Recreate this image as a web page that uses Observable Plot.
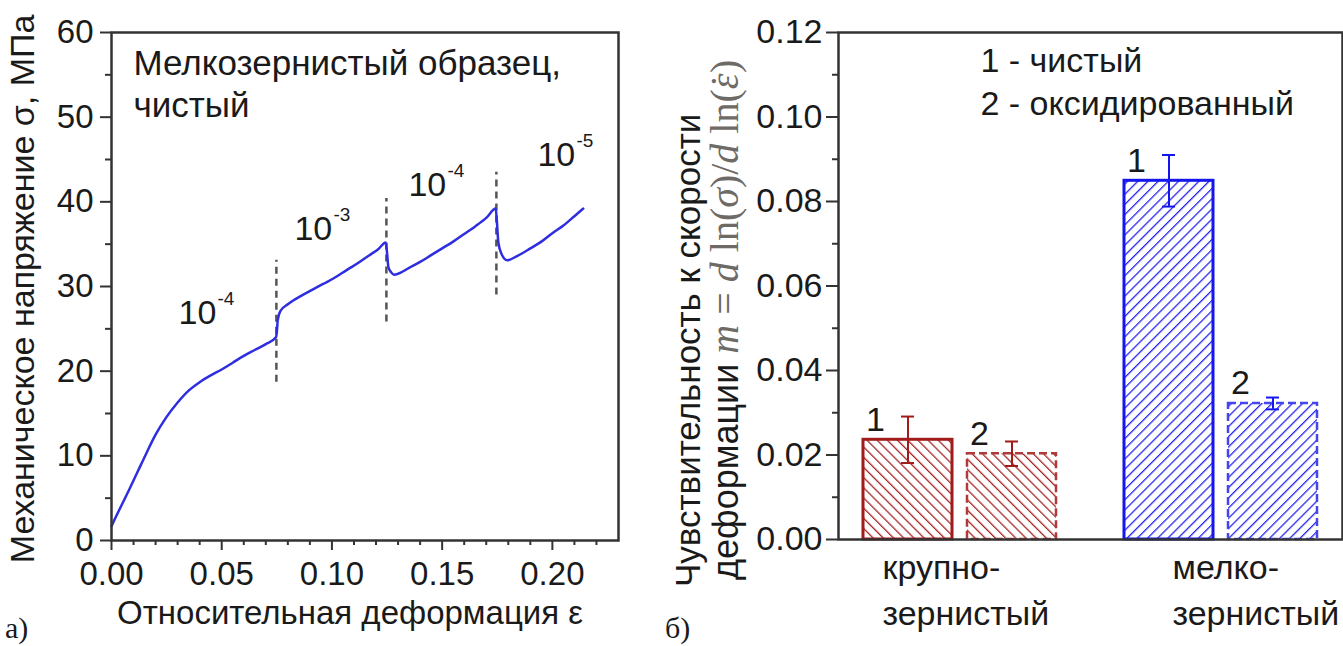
<!DOCTYPE html>
<html><head><meta charset="utf-8">
<script src="https://cdn.jsdelivr.net/npm/d3@7"></script>
<script src="https://cdn.jsdelivr.net/npm/@observablehq/plot@0.6"></script>
<style>
html,body{margin:0;padding:0;background:#fff;}
#wrap{position:relative;width:1343px;height:646px;overflow:hidden;background:#fff;}
#a{position:absolute;left:0;top:0;}
#b{position:absolute;left:660px;top:0;}
</style></head><body><div id="wrap"><div id="a"></div><div id="b"></div></div>
<script>
// ---------- panel a) data ----------
const strain = [0,0.002,0.005,0.008,0.012,0.016,0.020,0.025,0.030,0.035,0.040,0.045,0.050,0.055,0.060,0.065,0.070,0.0746,0.0750,0.0754,0.0766,0.0800,0.0860,0.0910,0.0960,0.1010,0.1070,0.1120,0.1170,0.1210,0.1244,0.1250,0.1256,0.1268,0.1282,0.1300,0.1350,0.1400,0.1450,0.1500,0.1550,0.1600,0.1650,0.1700,0.1743,0.1748,0.1755,0.1770,0.1795,0.1840,0.1900,0.1950,0.2000,0.2050,0.2100,0.2140];
const stress = [1.7,2.8,4.4,6.0,8.2,10.4,12.5,14.6,16.3,17.7,18.7,19.5,20.2,21.0,21.8,22.5,23.2,24.0,24.6,26.0,27.1,27.9,28.9,29.6,30.3,31.0,32.0,32.8,33.7,34.4,35.2,34.0,32.3,31.7,31.4,31.5,32.2,32.9,33.7,34.5,35.3,36.2,37.1,38.1,39.2,37.8,35.2,33.8,33.1,33.6,34.5,35.3,36.3,37.2,38.3,39.2];
const rateChangeStrain = [0.0748, 0.1247, 0.1746];
const rateChangeLow = [18.7, 25.8, 29.0];
const rateChangeHigh = [33.1, 40.4, 43.5];
const rateLabelStrain = [0.0304, 0.083, 0.1347, 0.1932];
const rateLabelStress = [25.6, 35.5, 40.7, 44.2];
const rateExponent = ["-4", "-3", "-4", "-5"];
const strainMajorTicks = [0, 0.05, 0.10, 0.15, 0.20];
const strainMinorTicks = [0.01,0.02,0.03,0.04,0.06,0.07,0.08,0.09,0.11,0.12,0.13,0.14,0.16,0.17,0.18,0.19,0.21,0.22];
const stressMajorTicks = [0, 10, 20, 30, 40, 50, 60];
const stressMinorTicks = [5, 15, 25, 35, 45, 55];
const titleA = ["Мелкозернистый образец,", "чистый"];
const xTitleA = "Относительная деформация ε";
const yTitleA = "Механическое напряжение σ, МПа";

// ---------- panel б) data ----------
const grainKeys = ["coarse", "fine"];
const grainLabels = ["крупно-\nзернистый", "мелко-\nзернистый"];
const seriesKeys = ["1", "2"];
const legendLabels = ["1 - чистый", "2 - оксидированный"];
const mValues = [[0.0236, 0.0203], [0.0849, 0.0322]];
const mErrors = [[0.0055, 0.0029], [0.0061, 0.0014]];
const mMajorTicks = [0, 0.02, 0.04, 0.06, 0.08, 0.10, 0.12];
const mMinorTicks = [0.01, 0.03, 0.05, 0.07, 0.09, 0.11];

// ---------- panel a) ----------
const curve = strain.map((s, i) => ({strain: s, stress: stress[i]}));
const rateChanges = rateChangeStrain.map((s, i) => ({strain: s, lo: rateChangeLow[i], hi: rateChangeHigh[i]}));
const rateLabels = rateLabelStrain.map((s, i) => ({strain: s, stress: rateLabelStress[i], exp: rateExponent[i]}));

const ink = "#1a1a1a";
const sans = "'Liberation Sans', Arial, sans-serif";
const serif = "'Liberation Serif', 'DejaVu Serif', 'Times New Roman', serif";
const left = Plot.plot({
  width: 660, height: 646,
  marginLeft: 111, marginTop: 32, marginRight: 42, marginBottom: 106,
  style: {fontFamily: sans, fontSize: "33px", color: ink, background: "transparent", overflow: "visible"},
  x: {domain: [0, 0.23]},
  y: {domain: [0, 60]},
  marks: [
    Plot.ruleX(rateChanges, {x: "strain", y1: "lo", y2: "hi", stroke: "#555", strokeWidth: 2.5, strokeDasharray: "7,5"}),
    Plot.line(curve, {x: "strain", y: "stress", stroke: "#2e2ee0", strokeWidth: 2.5, curve: "monotone-x"}),
    Plot.frame({stroke: "#333", strokeWidth: 2.5}),
    Plot.axisX({ticks: strainMajorTicks, tickSize: 10, tickPadding: 11, tickFormat: d3.format(".2f"), strokeWidth: 2, stroke: "#333", label: null}),
    Plot.axisX({ticks: strainMinorTicks, tickSize: 5, tickFormat: () => "", strokeWidth: 2, stroke: "#333", label: null}),
    Plot.axisY({ticks: stressMajorTicks, tickSize: 11, tickPadding: 7, strokeWidth: 2, stroke: "#333", label: null}),
    Plot.axisY({ticks: stressMinorTicks, tickSize: 6, tickFormat: () => "", strokeWidth: 2, stroke: "#333", label: null}),
    Plot.text(rateLabels, {x: "strain", y: "stress", text: () => "10", textAnchor: "start", lineAnchor: "bottom", fontSize: 34, fill: ink}),
    Plot.text(rateLabels, {x: "strain", y: "stress", text: "exp", textAnchor: "start", lineAnchor: "bottom", dx: 39, dy: -19, fontSize: 19, fill: ink}),
    Plot.text([titleA.join("\n")], {frameAnchor: "top-left", dx: 22, dy: 13, textAnchor: "start", lineAnchor: "top", lineHeight: 1.2, fontSize: 35, fill: ink})
  ]
});
{
  const s = d3.select(left);
  s.append("text").attr("transform", "translate(34,289) rotate(-90)").attr("text-anchor", "middle")
    .attr("fill", ink).style("font-size", "34px").style("font-family", sans).text(yTitleA);
  s.append("text").attr("x", 350).attr("y", 624).attr("text-anchor", "middle")
    .attr("fill", ink).style("font-size", "33px").style("font-family", sans).text(xTitleA);
  s.append("text").attr("x", 5).attr("y", 638).attr("text-anchor", "start").attr("fill", ink)
    .style("font-size", "30px").style("font-family", serif).text("а)");
}
document.getElementById("a").appendChild(left);

// ---------- panel б) ----------
const rows = [];
grainKeys.forEach((g, i) => seriesKeys.forEach((k, j) => rows.push({grain: g, series: k, m: mValues[i][j], err: mErrors[i][j]})));
const strokeSolid = {coarse: "#a11b1b", fine: "#1515ee"};
const strokeDashed = {coarse: "#b03a3a", fine: "#4545ee"};
const hatch = {coarse: "url(#hatchRed)", fine: "url(#hatchBlue)"};
const labelRows = grainKeys.map((g, i) => ({grain: g, label: grainLabels[i]}));

const right = Plot.plot({
  width: 683, height: 646,
  marginLeft: 178, marginRight: 1, marginTop: 32, marginBottom: 107,
  style: {fontFamily: sans, fontSize: "34px", color: ink, background: "transparent", overflow: "visible"},
  fx: {domain: grainKeys, paddingInner: 18 / 261, paddingOuter: 0, axis: null},
  x: {domain: seriesKeys, paddingInner: 15 / 105, paddingOuter: 0.2286, axis: null},
  y: {domain: [0, 0.12]},
  color: {type: "identity"},
  marks: [
    Plot.barY(rows.filter(d => d.series === "1"), {fx: "grain", x: "series", y: "m", fill: d => hatch[d.grain], stroke: d => strokeSolid[d.grain], strokeWidth: 3}),
    Plot.barY(rows.filter(d => d.series === "2"), {fx: "grain", x: "series", y: "m", fill: d => hatch[d.grain], stroke: d => strokeDashed[d.grain], strokeWidth: 2.5, strokeDasharray: "8,4"}),
    Plot.ruleX(rows, {fx: "grain", x: "series", y1: d => d.m - d.err, y2: d => d.m + d.err, stroke: d => strokeSolid[d.grain], strokeWidth: 2}),
    Plot.tickY(rows, {fx: "grain", x: "series", y: d => d.m + d.err, stroke: d => strokeSolid[d.grain], strokeWidth: 2, insetLeft: 38, insetRight: 38}),
    Plot.tickY(rows, {fx: "grain", x: "series", y: d => d.m - d.err, stroke: d => strokeSolid[d.grain], strokeWidth: 2, insetLeft: 38, insetRight: 38}),
    Plot.text(rows, {fx: "grain", x: "series", y: "m", text: "series", textAnchor: "start", lineAnchor: "bottom", dx: -42, dy: -9, fontSize: 34, fill: ink}),
    Plot.frame({facet: "super", stroke: "#333", strokeWidth: 2.5}),
    Plot.axisY({ticks: mMajorTicks, tickSize: 12, tickPadding: 4, tickFormat: d3.format(".2f"), strokeWidth: 2, stroke: "#333", label: null}),
    Plot.axisY({ticks: mMinorTicks, tickSize: 6, tickFormat: () => "", strokeWidth: 2, stroke: "#333", label: null}),
    Plot.text([legendLabels.join("\n")], {facet: "super", frameAnchor: "top-left", dx: 142, dy: 10, textAnchor: "start", lineAnchor: "top", lineHeight: 1.24, fontSize: 34, fill: ink}),
    Plot.text(labelRows.filter(d => d.grain === "coarse"), {fx: "grain", text: "label", frameAnchor: "bottom-left", textAnchor: "start", lineAnchor: "top", dx: 44, dy: 7, lineHeight: 1.35, fontSize: 34, fill: ink}),
    Plot.text(labelRows.filter(d => d.grain === "fine"), {fx: "grain", text: "label", frameAnchor: "bottom-left", textAnchor: "start", lineAnchor: "top", dx: 73, dy: 7, lineHeight: 1.35, fontSize: 34, fill: ink})
  ]
});
{
  const s = d3.select(right);
  const defs = s.insert("defs", ":first-child");
  const mk = (id, color, angle) => {
    const p = defs.append("pattern").attr("id", id).attr("patternUnits", "userSpaceOnUse")
      .attr("width", 7.2).attr("height", 7.2).attr("patternTransform", `rotate(${angle})`);
    p.append("rect").attr("width", 7.2).attr("height", 7.2).attr("fill", "#fff");
    p.append("line").attr("x1", 0).attr("y1", 0).attr("x2", 0).attr("y2", 7.2).attr("stroke", color).attr("stroke-width", 2.6);
  };
  mk("hatchRed", "#a32626", -45);
  mk("hatchBlue", "#2525ee", 45);
  s.append("text").attr("transform", "translate(40,587) rotate(-90)").attr("text-anchor", "start")
    .attr("fill", ink).style("font-size", "35px").style("font-family", sans).text("Чувствительность к скорости");
  const t2 = s.append("text").attr("transform", "translate(78,580) rotate(-90)").attr("text-anchor", "start")
    .attr("fill", ink).style("font-size", "36px").style("font-family", sans);
  t2.append("tspan").text("деформации ");
  const mathColor = "#6e6a66";
  const parts = [["m", "italic", null], [" = ", "normal", null], ["d", "italic", null], [" ln(", "normal", null], ["σ", "italic", null], [")/", "normal", null], ["d", "italic", null], [" ln(", "normal", null], ["ε", "italic", null], ["˙", "normal", "-0.36em"], [")", "normal", "0.04em"]];
  parts.forEach(([txt, st, dx]) => {
    const ts = t2.append("tspan").attr("fill", mathColor).style("font-family", serif).style("font-size", "40px").style("font-style", st).text(txt);
    if (dx) ts.attr("dx", dx);
  });
  s.append("text").attr("x", 5).attr("y", 638).attr("text-anchor", "start").attr("fill", ink)
    .style("font-size", "30px").style("font-family", serif).text("б)");
}
document.getElementById("b").appendChild(right);
</script></body></html>
